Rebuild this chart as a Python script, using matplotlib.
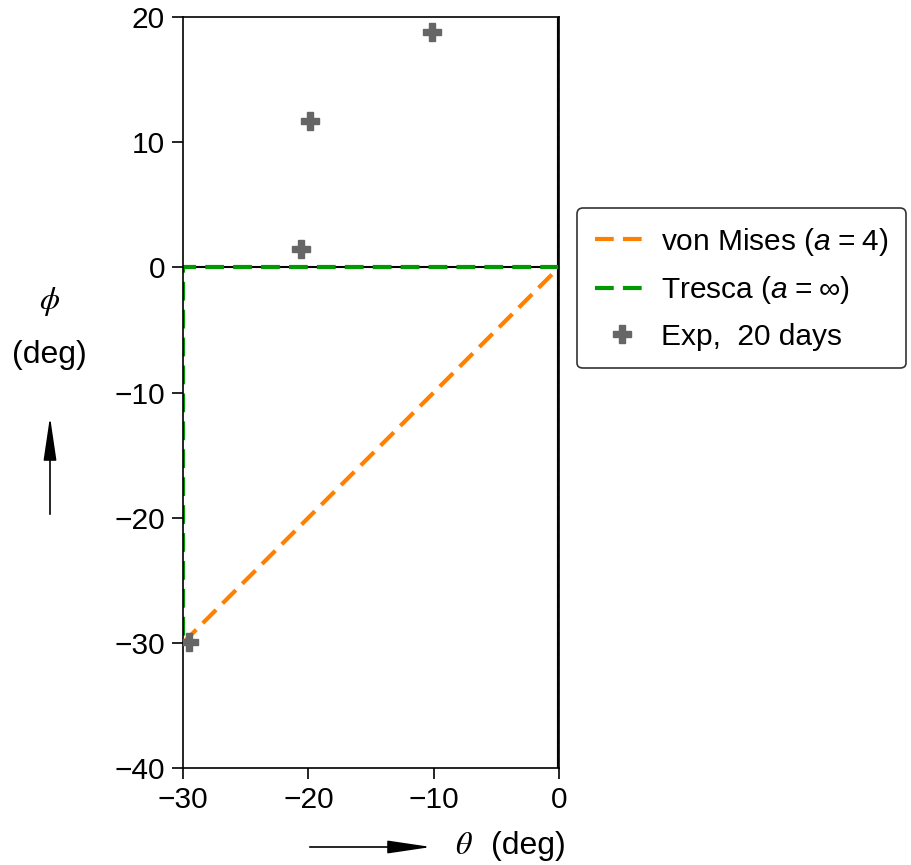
import matplotlib
matplotlib.use("Agg")
import matplotlib.pyplot as plt
from matplotlib.patches import FancyArrowPatch

plt.rcParams['font.family'] = ['Liberation Sans', 'DejaVu Sans']
plt.rcParams['mathtext.fontset'] = 'custom'
plt.rcParams['mathtext.rm'] = 'Liberation Sans'
plt.rcParams['mathtext.it'] = 'Liberation Sans:italic'
plt.rcParams['mathtext.fallback'] = 'stix'

# Yield-surface traces in the (theta, phi) plane
vm_theta = [-30, 0]
vm_phi = [-30, 0]
tr_theta = [0, -30, -30]
tr_phi = [0, 0, -30]

# Experimental points after 20 days
exp_theta = [-10.15, -19.85, -20.55, -29.55]
exp_phi = [18.8, 11.7, 1.5, -29.95]

x_ticks = [-30, -20, -10, 0]
y_ticks = [-40, -30, -20, -10, 0, 10, 20]

FS = 21.5
LFS = 23

fig = plt.figure(figsize=(9.12, 8.65), dpi=100)
ax = fig.add_axes([0.2007, 0.1121, 0.4123, 0.8682])

# reference lines through the origin
ax.axhline(0, color='black', lw=1.5, zorder=1)
ax.axvline(0, color='black', lw=3, zorder=1)
ax.axvline(0, color='#bbbbbb', lw=1, ls=(0, (4, 3)), zorder=1.1)

ax.plot(vm_theta, vm_phi, color='#ff8000', lw=3, ls=(0, (4.5, 2.2)),
        label=r'von Mises ($a\;$=$\;$4)', zorder=2)
ax.plot(tr_theta, tr_phi, color='#009900', lw=3, ls=(0, (4.5, 2.2)),
        label=r'Tresca ($a\;$=$\;\infty$)', zorder=2)
ax.plot(exp_theta, exp_phi, ls='none', marker='P', ms=13, color='#666666',
        mec='#666666', label='Exp,  20 days', zorder=3)

ax.set_xlim(-30, 0)
ax.set_ylim(-40, 20)
ax.set_xticks(x_ticks)
ax.set_yticks(y_ticks)
ax.set_xticklabels(['\u221230', '\u221220', '\u221210', '0'])
ax.set_yticklabels(['\u221240', '\u221230', '\u221220', '\u221210', '0', '10', '20'])
ax.tick_params(direction='out', length=8, width=1.2, labelsize=FS, pad=5)
for s in ax.spines.values():
    s.set_linewidth(1.2)

leg = ax.legend(loc='center left', bbox_to_anchor=(1.048, 0.639), borderaxespad=0,
                fontsize=FS, frameon=True, fancybox=True, edgecolor='black',
                handlelength=1.8, borderpad=0.6, labelspacing=0.55,
                handletextpad=0.4)
leg.get_frame().set_linewidth(1.2)

# axis annotations with direction arrows
fig.text(50 / 912, 1 - 302 / 865, r'$\phi$', fontsize=LFS, ha='center', va='center',
         math_fontfamily='stix')
fig.text(49 / 912, 1 - 355 / 865, '(deg)', fontsize=LFS, ha='center', va='center')
fig.add_artist(FancyArrowPatch(
    (50 / 912, 1 - 517 / 865), (50 / 912, 1 - 414 / 865), transform=fig.transFigure,
    arrowstyle='-|>,head_length=1.35,head_width=0.2', mutation_scale=20,
    color='black', lw=1.2))
fig.text(464 / 912, 1 - 846 / 865, r'$\theta$', fontsize=LFS, ha='center', va='center',
         math_fontfamily='stix')
fig.text(528 / 912, 1 - 846 / 865, '(deg)', fontsize=LFS, ha='center', va='center')
fig.add_artist(FancyArrowPatch(
    (307 / 912, 1 - 847 / 865), (434 / 912, 1 - 847 / 865), transform=fig.transFigure,
    arrowstyle='-|>,head_length=1.35,head_width=0.2', mutation_scale=20,
    color='black', lw=1.2))

fig.savefig('out.png', dpi=100)
